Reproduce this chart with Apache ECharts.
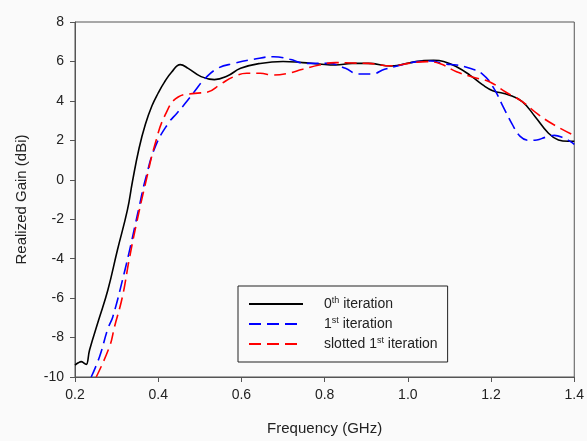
<!DOCTYPE html>
<html>
<head>
<meta charset="utf-8">
<script src="https://cdn.jsdelivr.net/npm/echarts@6/dist/echarts.min.js"></script>
<style>
html,body{margin:0;padding:0;background:#fafafa;}
#c{width:587px;height:441px;}
</style>
</head>
<body>
<div id="c"></div>
<script>
// Frequency (GHz), Realized Gain (dBi)
var iter0 = [[0.200,-9.40],[0.208,-9.28],[0.215,-9.22],[0.222,-9.30],[0.227,-9.36],[0.235,-8.63],[0.257,-7.10],[0.279,-5.59],[0.302,-3.56],[0.326,-1.53],[0.338,-0.1],[0.354,1.6],[0.369,2.8],[0.385,3.75],[0.400,4.40],[0.415,4.95],[0.432,5.45],[0.453,5.84],[0.472,5.65],[0.503,5.23],[0.535,5.08],[0.566,5.26],[0.598,5.65],[0.645,5.90],[0.700,6.00],[0.747,5.94],[0.787,5.87],[0.826,5.82],[0.866,5.90],[0.905,5.90],[0.960,5.77],[1.007,5.94],[1.039,6.05],[1.062,6.06],[1.086,6.00],[1.117,5.73],[1.149,5.31],[1.180,4.81],[1.204,4.52],[1.243,4.30],[1.275,3.96],[1.306,3.20],[1.338,2.36],[1.362,2.02],[1.385,1.95],[1.400,1.95]];
var iter1 = [[0.239,-10.0],[0.259,-8.97],[0.279,-7.55],[0.291,-6.94],[0.318,-4.75],[0.334,-3.31],[0.344,-2.35],[0.355,-1.3],[0.369,0.0],[0.393,1.68],[0.424,2.86],[0.446,3.4],[0.464,3.85],[0.488,4.5],[0.511,5.1],[0.543,5.65],[0.582,5.90],[0.629,6.11],[0.677,6.24],[0.716,6.11],[0.755,5.90],[0.810,5.90],[0.850,5.65],[0.881,5.36],[0.913,5.36],[0.944,5.60],[0.984,5.82],[1.023,5.99],[1.055,6.02],[1.090,5.87],[1.117,5.82],[1.149,5.65],[1.180,5.35],[1.205,4.70],[1.228,3.75],[1.250,2.85],[1.270,2.20],[1.290,2.00],[1.310,2.02],[1.330,2.15],[1.352,2.25],[1.375,2.12],[1.390,1.95],[1.400,1.80]];
var slotted1 = [[0.251,-10.0],[0.283,-8.46],[0.295,-7.45],[0.314,-5.93],[0.330,-4.07],[0.347,-2.29],[0.369,-0.22],[0.393,1.85],[0.417,3.3],[0.448,4.2],[0.488,4.38],[0.519,4.45],[0.550,4.85],[0.582,5.23],[0.613,5.40],[0.645,5.40],[0.676,5.31],[0.708,5.38],[0.747,5.60],[0.787,5.82],[0.826,5.94],[0.866,5.92],[0.905,5.90],[0.960,5.78],[1.007,5.92],[1.046,5.99],[1.078,5.88],[1.117,5.48],[1.157,5.20],[1.196,4.97],[1.235,4.45],[1.275,3.96],[1.314,3.30],[1.350,2.80],[1.400,2.24]];
var seriesNames = ['0th iteration','1st iteration','slotted 1st iteration'];
var legendLabels = ['0{sup|th} iteration','1{sup|st} iteration','slotted 1{sup|st} iteration'];

var chart = echarts.init(document.getElementById('c'), null, {renderer:'canvas'});
var font = 'Liberation Sans, Arial, sans-serif';
var axisColor = '#555';
chart.setOption({
  backgroundColor: '#fafafa',
  animation: false,
  grid: {left:75, top:22, right:4, bottom:64, show:true, borderColor:axisColor, borderWidth:1, backgroundColor:'transparent'},
  xAxis: {
    type:'value', min:0.2, max:1.4, interval:0.2,
    name:'Frequency (GHz)', nameLocation:'middle', nameGap:44,
    nameTextStyle:{fontFamily:font, fontSize:15, color:'#222'},
    axisLine:{show:true, onZero:false, lineStyle:{color:axisColor, width:1}},
    axisTick:{show:true, inside:false, length:5, lineStyle:{color:axisColor}},
    axisLabel:{margin:11, fontFamily:font, fontSize:14, color:'#222', showMaxLabel:true, formatter:function(v){return v.toFixed(1);}},
    splitLine:{show:false}
  },
  yAxis: {
    type:'value', min:-10, max:8, interval:2,
    name:'Realized Gain (dBi)', nameLocation:'middle', nameGap:46,
    nameTextStyle:{fontFamily:font, fontSize:15, color:'#222'},
    axisLine:{show:true, onZero:false, lineStyle:{color:axisColor, width:1}},
    axisTick:{show:true, inside:false, length:5, lineStyle:{color:axisColor}},
    axisLabel:{margin:11, fontFamily:font, fontSize:14, color:'#222'},
    splitLine:{show:false}
  },
  legend: {
    orient:'vertical', left:238, top:286,
    backgroundColor:'#fafafa', borderColor:'#222', borderWidth:1,
    padding:[10,10,11,10],
    itemWidth:54, itemHeight:14, itemGap:5,
    itemStyle:{color:'transparent', borderColor:'transparent', borderWidth:0},
    data: seriesNames,
    formatter:function(name){ return '{n|' + legendLabels[seriesNames.indexOf(name)].replace(/\{sup\|(\w+)\}/, '}{sup|$1}{n|') + '}'; },
    textStyle:{fontFamily:font, fontSize:14, color:'#222', padding:[0,0,0,16],
      rich:{ n:{fontFamily:font, fontSize:14, color:'#222', lineHeight:16},
             sup:{fontFamily:font, fontSize:9, color:'#222', lineHeight:16, verticalAlign:'top'} } }
  },
  series: [
    {name:seriesNames[0], type:'line', data:iter0, smooth:0.45, showSymbol:false, symbol:'none',
     lineStyle:{color:'#000000', width:1.6, type:'solid'}, itemStyle:{color:'#000000'}},
    {name:seriesNames[1], type:'line', data:iter1, smooth:0.45, showSymbol:false, symbol:'none',
     lineStyle:{color:'#0000ff', width:1.6, type:[12,6]}, itemStyle:{color:'#0000ff'}},
    {name:seriesNames[2], type:'line', data:slotted1, smooth:0.45, showSymbol:false, symbol:'none',
     lineStyle:{color:'#ff0000', width:1.6, type:[12,6]}, itemStyle:{color:'#ff0000'}}
  ]
});
</script>
</body>
</html>
